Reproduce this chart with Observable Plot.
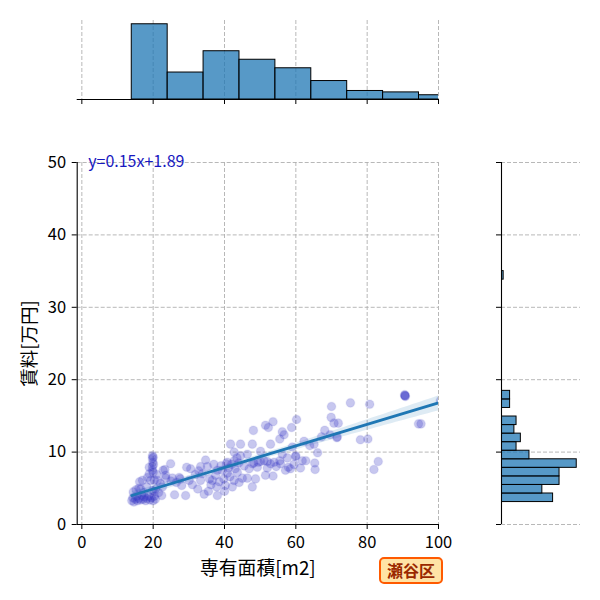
<!DOCTYPE html>
<html><head><meta charset="utf-8">
<script src="https://cdn.jsdelivr.net/npm/d3@7"></script>
<script src="https://cdn.jsdelivr.net/npm/@observablehq/plot@0.6"></script>
<style>
body{margin:0;background:#fff;}
#wrap{position:relative;width:600px;height:600px;font-family:'Noto Sans CJK JP',sans-serif;}
#wrap svg{position:absolute;background:transparent;overflow:visible;}
#badge{position:absolute;left:379px;top:557px;width:60px;height:23px;border:2px solid #ff5a00;border-radius:5px;background:#ffe3a6;color:#9a2800;font-weight:bold;font-size:16px;line-height:23px;text-align:center;z-index:5;}
</style></head><body>
<div id="wrap"><div id="badge">瀬谷区</div></div>
<script>
// 専有面積 (m2)
const area = [
  14.0,14.3,14.6,15.0,15.3,15.6,16.0,16.5,16.8,17.2,17.5,17.9,18.3,18.7,19.1,19.5,20.0,20.3,20.6,22.4,
  21.5,14.4,15.2,16.0,16.5,17.4,18.2,19.8,20.3,20.7,22.6,
  16.2,17.0,18.4,19.3,20.3,21.2,22.0,23.5,
  18.9,19.8,20.0,21.0,23.5,23.3,22.8,
  18.9,19.8,19.9,20.1,
  19.8,19.8,20.0,
  24.9,25.4,26.0,27.3,27.6,28.0,29.1,29.4,30.5,30.1,31.0,31.8,32.5,33.3,33.8,33.3,26.5,25.0,32.8,
  34.7,35.2,34.3,36.6,38.0,38.0,39.4,40.8,40.8,41.7,42.7,42.7,42.7,42.2,43.6,44.1,35.8,36.2,37.0,37.5,38.5,39.0,39.8,40.2,40.5,41.2,41.5,42.0,43.0,43.5,35.5,37.8,40.0,44.0,
  44.5,44.5,46.4,47.8,48.1,47.8,49.2,46.9,46.4,48.7,47.8,50.1,50.1,51.1,51.5,52.3,53.6,52.9,53.9,52.0,52.9,52.0,51.5,53.6,45.5,49.5,48.2,45.0,
  54.5,55.5,55.5,56.2,56.2,57.1,57.6,57.9,58.5,58.8,59.0,59.9,60.0,60.2,61.3,61.8,62.3,63.9,55.7,59.5,62.8,56.7,
  65.1,65.3,65.4,66.1,67.2,68.1,69.6,69.9,70.7,71.9,71.5,71.6,70.0,
  75.3,78.1,80.2,80.7,83.1,81.9,
  90.6,90.6,90.7,90.5,94.4,
  95.1,100.5,104.6
];
// 賃料 (万円)
const rent = [
  3.3,3.7,3.1,3.5,3.9,3.3,3.6,3.4,4.0,3.5,3.8,3.3,3.6,3.9,3.4,3.7,3.3,3.9,3.5,4.0,
  4.4,4.5,4.8,5.0,4.9,4.4,5.2,4.7,4.6,4.9,5.2,
  5.9,6.1,6.5,6.1,6.1,6.1,5.7,6.4,
  7.0,7.5,7.2,6.9,6.8,7.6,7.5,
  7.9,8.0,8.6,8.3,
  9.1,9.5,9.3,
  8.4,6.4,4.1,6.5,6.3,5.4,4.0,7.9,7.7,6.1,5.5,6.9,4.9,8.0,7.0,6.1,5.8,6.0,7.4,
  8.9,8.0,4.2,6.1,7.5,4.0,7.5,7.1,8.6,11.1,10.0,8.8,6.1,5.2,7.2,5.8,6.3,5.5,8.3,6.8,5.9,8.1,6.3,5.4,8.4,7.8,6.6,8.3,7.7,9.2,4.6,5.2,4.6,8.5,
  11.1,9.5,9.7,11.1,13.0,8.4,7.9,7.7,6.4,6.3,5.2,8.7,10.1,8.8,13.7,13.4,14.2,11.1,8.6,8.7,8.4,7.8,6.8,6.7,8.1,8.6,8.5,6.4,
  8.0,11.8,8.8,9.7,12.8,7.5,9.2,7.9,7.7,13.4,10.7,9.4,9.5,14.5,7.8,8.8,11.5,10.9,8.4,8.3,8.8,12.4,
  11.1,8.5,7.6,9.9,12.1,13.0,12.4,14.8,14.0,14.0,12.0,12.1,16.3,
  16.8,11.7,11.8,16.6,8.7,7.6,
  17.8,17.8,17.7,17.9,13.9,
  13.9,17.1,35.0
];
const xTicks = [0, 20, 40, 60, 80, 100];
const yTicks = [0, 10, 20, 30, 40, 50];
const xDomain = [-1.3, 100];
const yDomain = [0, 50];
const xBinCount = 9;
const yBinCount = 27;
const equationLabel = "y=0.15x+1.89";
const xLabel = "専有面積[m2]";
const yLabel = "賃料[万円]";

(function () {
const data = area.map((a, i) => ({area: a, rent: rent[i]}));
function bins(values, n) {
  const [lo, hi] = d3.extent(values);
  const w = (hi - lo) / n;
  return d3.bin().domain([lo, hi]).thresholds(d3.range(1, n).map(i => lo + i * w))(values);
}
const font = "'Noto Sans CJK JP','Noto Sans',sans-serif";
const style = {fontFamily: font, fontSize: "16.5px", background: "transparent", color: "black", overflow: "visible"};
const grid = {stroke: "#b0b0b0", strokeOpacity: 1, strokeDasharray: "4,2", strokeWidth: 0.9};
const barStyle = {fill: "#1f77b4", fillOpacity: 0.75, stroke: "black", strokeWidth: 1, inset: 0, clip: true};

const mainPlot = Plot.plot({
  width: 490, height: 490,
  marginLeft: 76.7, marginRight: 52, marginTop: 52, marginBottom: 76,
  style,
  x: {domain: xDomain}, y: {domain: yDomain},
  marks: [
    Plot.gridX(xTicks, grid),
    Plot.gridY(yTicks, grid),
    Plot.dot(data, {x: "area", y: "rent", r: 4.3, fill: "#3030c4", fillOpacity: 0.27, stroke: "#3030c4", strokeOpacity: 0.08, strokeWidth: 1.5, clip: true}),
    Plot.linearRegressionY(data, {x: "area", y: "rent", stroke: "#1f77b4", strokeWidth: 2.8, fill: "#1f77b4", fillOpacity: 0.15, clip: true}),
    Plot.ruleX([xDomain[0]], {stroke: "black", strokeWidth: 1.1}),
    Plot.ruleY([yDomain[0]], {stroke: "black", strokeWidth: 1.1}),
    Plot.axisX(xTicks, {tickSize: 5, tickPadding: 7, label: null}),
    Plot.axisY(yTicks, {tickSize: 5, tickPadding: 6, label: null}),
    Plot.text([equationLabel], {text: d => d, frameAnchor: "top-left", dx: 11, dy: -1, textAnchor: "start", lineAnchor: "middle", fill: "#1818c0", fontSize: 16}),
    Plot.text([xLabel], {text: d => d, frameAnchor: "bottom", dy: 44, textAnchor: "middle", lineAnchor: "middle", fontSize: 18.8}),
    Plot.text([yLabel], {text: d => d, frameAnchor: "left", dx: -47, rotate: -90, textAnchor: "middle", lineAnchor: "middle", fontSize: 18.5})
  ]
});
mainPlot.style.left = "0px"; mainPlot.style.top = "110px";

const bx = bins(area, xBinCount);
const topPlot = Plot.plot({
  width: 490, height: 110,
  marginLeft: 76.7, marginRight: 52, marginTop: 20, marginBottom: 11,
  style,
  x: {domain: xDomain}, y: {domain: [0, d3.max(bx, b => b.length) * 1.05], axis: null},
  marks: [
    Plot.gridX(xTicks, grid),
    Plot.rect(bx, {x1: d => d.x0, x2: d => d.x1, y1: 0, y2: d => d.length, ...barStyle}),
    Plot.ruleY([0], {stroke: "black", strokeWidth: 1.1}),
    Plot.axisX(xTicks, {tickSize: 5, tickFormat: () => "", label: null})
  ]
});
topPlot.style.left = "0px"; topPlot.style.top = "0px";

const by = bins(rent, yBinCount);
const rightPlot = Plot.plot({
  width: 110, height: 490,
  marginLeft: 11, marginRight: 20, marginTop: 52, marginBottom: 76,
  style,
  x: {domain: [0, d3.max(by, b => b.length) * 1.05], axis: null}, y: {domain: yDomain},
  marks: [
    Plot.gridY(yTicks, grid),
    Plot.rect(by, {y1: d => d.x0, y2: d => d.x1, x1: 0, x2: d => d.length, ...barStyle}),
    Plot.ruleX([0], {stroke: "black", strokeWidth: 1.1}),
    Plot.axisY(yTicks, {tickSize: 5, tickFormat: () => "", label: null})
  ]
});
rightPlot.style.left = "490px"; rightPlot.style.top = "110px";

const wrap = document.getElementById("wrap");
wrap.appendChild(topPlot);
wrap.appendChild(mainPlot);
wrap.appendChild(rightPlot);
})();
</script>
</body></html>
